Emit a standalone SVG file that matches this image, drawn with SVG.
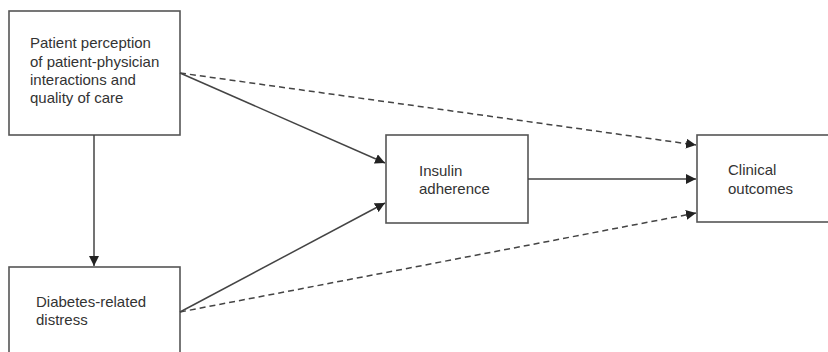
<svg xmlns="http://www.w3.org/2000/svg" width="828" height="352" viewBox="0 0 828 352">
<style>
.box{fill:#fff;stroke:#555;stroke-width:1.6}
.t{font-family:"Liberation Sans",Arial,sans-serif;font-size:15px;fill:#333}
.c{fill:none;stroke:#444;stroke-width:1.5}
.d{stroke-dasharray:6,4}
</style>
<defs>
<marker id="ah" viewBox="0 0 10 10" refX="10" refY="5" markerWidth="10" markerHeight="10" markerUnits="userSpaceOnUse" orient="auto">
<path d="M0,0 L10,5 L0,10 z" fill="#222"/>
</marker>
</defs>
<rect width="828" height="352" fill="#fff"/>
<g id="n1">
<rect class="box" x="9" y="11" width="171" height="124"/>
<text class="t" x="30" y="48">Patient perception</text>
<text class="t" x="30" y="67">of patient-physician</text>
<text class="t" x="30" y="85">interactions and</text>
<text class="t" x="30" y="103">quality of care</text>
</g>
<g id="n2">
<rect class="box" x="9" y="267" width="171" height="100"/>
<text class="t" x="36" y="307">Diabetes-related</text>
<text class="t" x="36" y="325">distress</text>
</g>
<g id="n3">
<rect class="box" x="386" y="135" width="142" height="88"/>
<text class="t" x="419" y="176">Insulin</text>
<text class="t" x="419" y="194">adherence</text>
</g>
<g id="n4">
<rect class="box" x="697" y="135" width="140" height="87"/>
<text class="t" x="728" y="175">Clinical</text>
<text class="t" x="728" y="194">outcomes</text>
</g>
<g id="connectors">
<line class="c" x1="94" y1="135" x2="94" y2="266" marker-end="url(#ah)"/>
<line class="c" x1="180" y1="73" x2="385" y2="163" marker-end="url(#ah)"/>
<line class="c d" x1="180" y1="73" x2="696" y2="145" marker-end="url(#ah)"/>
<line class="c" x1="180" y1="312" x2="385" y2="203" marker-end="url(#ah)"/>
<line class="c d" x1="180" y1="312" x2="696" y2="213" marker-end="url(#ah)"/>
<line class="c" x1="528" y1="179" x2="696" y2="179" marker-end="url(#ah)"/>
</g>
</svg>
